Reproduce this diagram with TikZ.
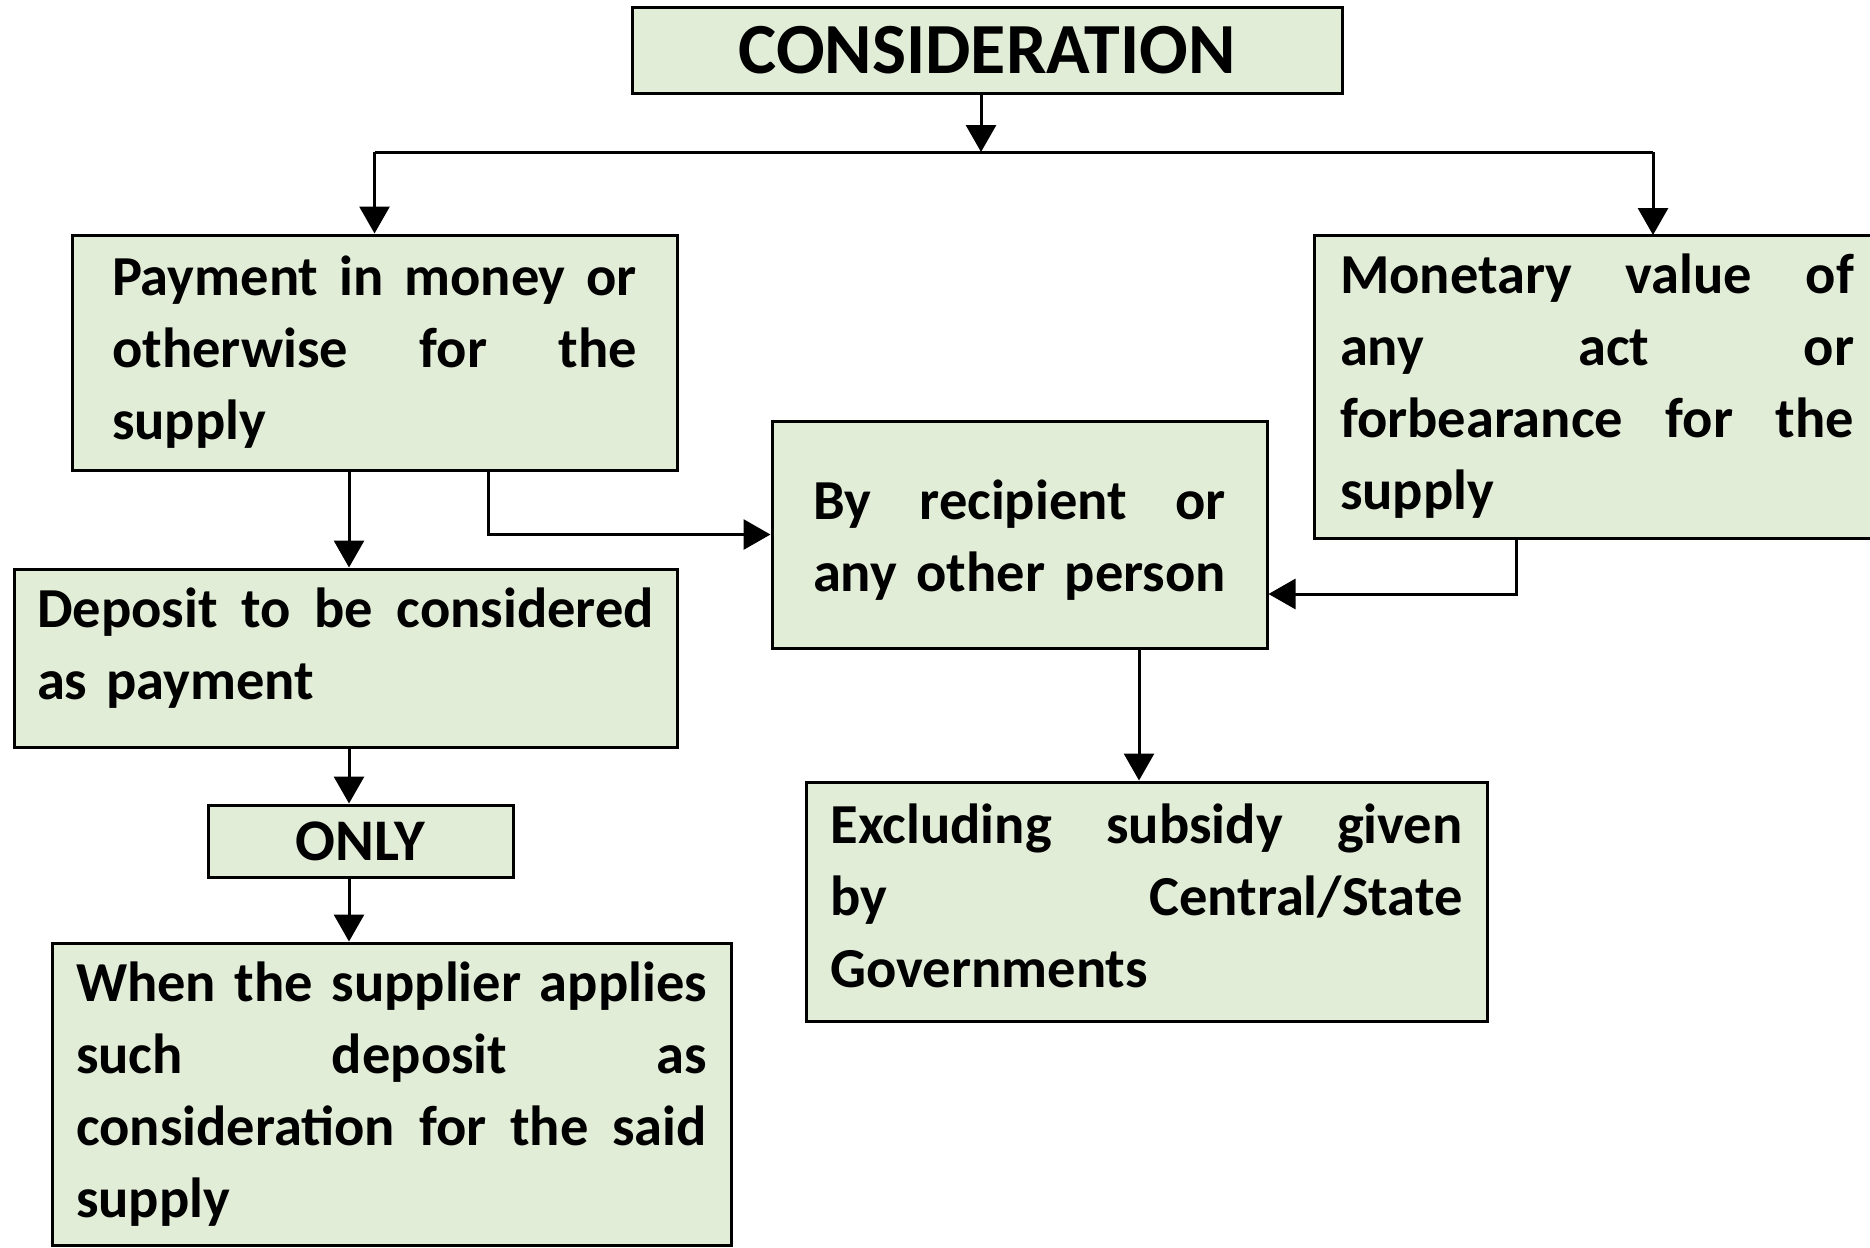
\documentclass[tikz,border=0pt]{standalone}
\usepackage{fontspec}
\setmainfont{Carlito}
\usetikzlibrary{arrows.meta}
\definecolor{boxfill}{RGB}{226,237,216}
\newcommand{\jl}[2]{\makebox[#1][s]{\spaceskip=0pt\xspaceskip=0pt #2}}
\begin{document}
\begin{tikzpicture}[x=1pt,y=-1pt,
  box/.style={draw=black, line width=3pt, fill=boxfill, inner sep=0pt,
    font=\fontsize{56.5}{72}\selectfont\bfseries, align=left},
  arr/.style={line width=3pt, -{Triangle[width=30pt,length=27pt]}},
  conn/.style={line width=3pt}]
\useasboundingbox (0,0) rectangle (1870,1247);
\clip (0,0) rectangle (1870,1247);
\fill[white] (0,0) rectangle (1870,1247);

\node[box, minimum width=710pt, minimum height=85pt, align=center,
  font=\fontsize{72}{84}\selectfont\bfseries] (cons) at (987,50.5) {CONSIDERATION};

\node[box, minimum width=605pt, minimum height=235pt, text width=525pt] (pay) at (374.5,352.5)
  {\jl{525pt}{Payment in money or}\\\jl{525pt}{otherwise for the}\\supply};

\node[box, minimum width=566pt, minimum height=303pt, text width=514pt] (mon) at (1597,386.5)
  {\jl{514pt}{Monetary value of}\\\jl{514pt}{any act or}\\\jl{514pt}{forbearance for the}\\supply};

\node[box, minimum width=495pt, minimum height=227pt, text width=413pt] (rec) at (1019.5,534.5)
  {\rule{0pt}{50pt}\jl{413pt}{By recipient or}\\\jl{413pt}{any other person}};

\node[box, minimum width=663pt, minimum height=178pt, text width=617pt] (dep) at (345.5,658)
  {\jl{617pt}{Deposit to be considered}\\as payment\rule[-28pt]{0pt}{28pt}};

\node[box, minimum width=305pt, minimum height=72pt, align=center,
  font=\fontsize{59}{72}\selectfont\bfseries] (only) at (360.5,841) {ONLY};

\node[box, minimum width=679pt, minimum height=302pt, text width=631pt] (when) at (391.5,1094)
  {\jl{631pt}{When the supplier applies}\\\jl{631pt}{such deposit as}\\\jl{631pt}{consideration for the said}\\supply};

\node[box, minimum width=681pt, minimum height=239pt, text width=632pt] (exc) at (1146.5,901.5)
  {\jl{632pt}{Excluding subsidy given}\\\jl{632pt}{by Central/State}\\Governments\rule[-12pt]{0pt}{12pt}};

\coordinate (split) at (981,152);
\coordinate (monin) at (1653,235);
\coordinate (colx) at (349,0);
\coordinate (pr) at (488,0);
\coordinate (mr) at (1516,594);
\coordinate (re) at (1139,0);

\draw[arr] (cons.south -| split) -- (split);
\draw[conn] (split -| pay.north) -- (split -| monin);
\draw[arr] (split -| pay.north) -- (pay.north);
\draw[arr] (split -| monin) -- (monin);
\draw[arr] (pay.south -| colx) -- (dep.north -| colx);
\draw[arr] (dep.south -| colx) -- (only.north -| colx);
\draw[arr] (only.south -| colx) -- (when.north -| colx);
\draw[arr] (pay.south -| pr) |- (rec.west);
\draw[arr] (mon.south -| mr) |- (rec.east |- mr);
\draw[arr] (rec.south -| re) -- (exc.north -| re);
\end{tikzpicture}
\end{document}
